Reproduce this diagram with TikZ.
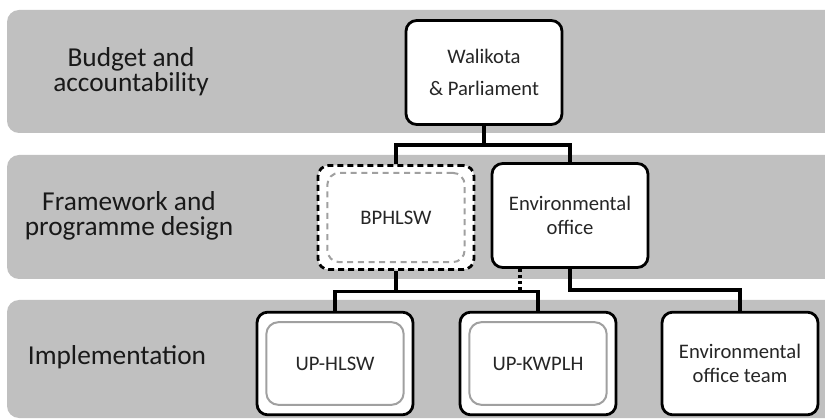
\documentclass[tikz,border=0pt]{standalone}
\usepackage{fontspec}
\setmainfont{Carlito}
\usetikzlibrary{positioning}
\definecolor{bandGray}{RGB}{192,192,192}
\definecolor{innerGray}{RGB}{160,160,160}
\tikzset{
    band/.style={fill=bandGray, draw=none, rounded corners=9pt},
    levelLabel/.style={font=\fontsize{20.5}{19}\selectfont, align=center, text=black!90},
    unitBox/.style={
        rectangle,
        draw=black,
        fill=white,
        line width=2.1pt,
        rounded corners=8pt,
        minimum width=117pt,
        minimum height=78pt,
        font=\fontsize{15.5}{17.5}\selectfont,
        align=center,
        text=black!85
    },
    % Variants
    advisoryBox/.style={unitBox, dash pattern=on 4.5pt off 3pt},
    innerDashed/.style={rectangle, draw=innerGray, line width=1.5pt, rounded corners=9pt,
        dash pattern=on 4.5pt off 3.5pt, minimum width=103pt, minimum height=67pt},
    innerSolid/.style={rectangle, draw=innerGray, line width=1.5pt, rounded corners=9pt,
        minimum width=103pt, minimum height=62pt},
    innerText/.style={font=\fontsize{15.5}{17.5}\selectfont, text=black!85},
    % Connectors
    link/.style={line width=2.3pt, draw=black},
    weakLink/.style={line width=2.3pt, draw=black, dash pattern=on 2.5pt off 2pt}
}
\begin{document}
\begin{tikzpicture}[x=0.75pt, y=-0.75pt]
\clip (0,0) rectangle (825,420);
% Level bands
\fill[band] (7,10) rectangle (840,133);
\fill[band] (7,155) rectangle (840,279);
\fill[band] (7,300) rectangle (840,418);
\node[levelLabel] (lvlBudget) at (131,72) {Budget and\\accountability};
\node[levelLabel] (lvlFrame) at (129,216) {Framework and\\programme design};
\node[levelLabel] (lvlImpl) at (117,357) {Implementation};
% Units
\node[unitBox] (wali) at (484,72.5) {Walikota\\[7pt]\& Parliament};
\node[advisoryBox] (bphlsw) at (396,217.5) {};
\node[innerDashed, innerText] (bphlswIn) at (bphlsw.center) {BPHLSW};
\node[unitBox] (envoff) at (570,215.5) {Environmental\\office};
\node[unitBox, minimum height=77pt] (uphlsw) at (335,363.5) {};
\node[innerSolid, innerText] (uphlswIn) at (uphlsw.center) {UP-HLSW};
\node[unitBox, minimum height=77pt] (upkwplh) at (538,363.5) {};
\node[innerSolid, innerText] (upkwplhIn) at (upkwplh.center) {UP-KWPLH};
\node[unitBox, minimum height=77pt] (envteam) at (740,363.5) {Environmental\\office team};
% Connectors
\coordinate (jTop) at (484,145);
\coordinate (jMid) at (396,291.5);
\coordinate (jEnv) at (570,290);
\draw[link] (wali) -- (jTop);
\draw[link] (bphlsw.north) |- (jTop) -| (envoff.north);
\draw[link] (bphlsw) -- (jMid);
\draw[link] (uphlsw.north) |- (jMid) -| (upkwplh.north);
\draw[weakLink] (envoff.south) ++(-50,0) coordinate (dotTop) -- (dotTop |- jMid);
\draw[link] (envoff) -- (jEnv) -| (envteam.north);
\end{tikzpicture}
\end{document}
